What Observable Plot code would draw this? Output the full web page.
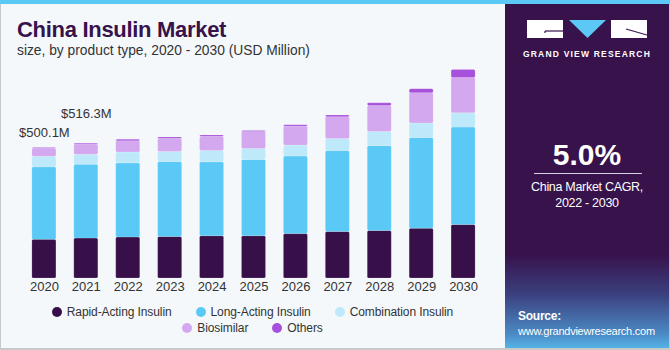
<!DOCTYPE html>
<html>
<head>
<meta charset="utf-8">
<script src="https://cdn.jsdelivr.net/npm/d3@7"></script>
<script src="https://cdn.jsdelivr.net/npm/@observablehq/plot@0.6"></script>
<style>
  html, body { margin: 0; padding: 0; }
  body { width: 670px; height: 350px; overflow: hidden; font-family: "Liberation Sans", Arial, sans-serif; }
  #wrap { position: relative; width: 670px; height: 350px; background: #f4f8fb; box-sizing: border-box; border-left: 1px solid #c8c8c8; border-bottom: 2px solid #c8c8c8; border-right: 1px solid #c8c8c8; }
  #stripe { position: absolute; left: -1px; top: 0; width: 670px; height: 4px; background: #5bc8f5; }
  #title { position: absolute; left: 16px; top: 17px; font-size: 22px; font-weight: 900; color: #37124b; letter-spacing: -0.3px; }
  #subtitle { position: absolute; left: 16px; top: 43px; font-size: 13.8px; color: #333; }
  #chart { position: absolute; left: -1px; top: 60px; }
  .legrow { position: absolute; left: -1px; width: 505px; display: flex; justify-content: center; gap: 24px; font-size: 12px; color: #333; letter-spacing: -0.1px; }
  .item { display: flex; align-items: center; white-space: nowrap; }
  .dot { width: 10px; height: 10px; border-radius: 50%; margin-right: 5px; }
  #panel { position: absolute; left: 504px; top: 4px; width: 164px; height: 344px;
    background: linear-gradient(to bottom, #37124b 0px, #37124b 250px, #3b3f7e 290px, #4b8ac4 330px, #55b3e6 344px); }
  #logo { position: absolute; left: 22px; top: 16px; width: 120px; height: 18px; }
  #brand { position: absolute; left: 0; width: 164px; top: 45px; text-align: center; color: #fff; font-size: 8.5px; font-weight: bold; letter-spacing: 1.2px; }
  #big { position: absolute; left: 0; width: 164px; top: 134px; text-align: center; color: #fff; font-size: 30px; font-weight: bold; }
  #rule { position: absolute; left: 29px; top: 169px; width: 108px; height: 1px; background: #d8d0e0; }
  #cagr { position: absolute; left: 0; width: 164px; top: 175px; text-align: center; color: #fff; font-size: 12.5px; line-height: 16px; letter-spacing: -0.3px; }
  #src { position: absolute; left: 13px; top: 305px; color: #fff; font-size: 11px; line-height: 15px; letter-spacing: -0.25px; }
</style>
</head>
<body>
<div id="wrap">
  <div id="stripe"></div>
  <div id="title">China Insulin Market</div>
  <div id="subtitle">size, by product type, 2020 - 2030 (USD Million)</div>
  <div id="chart"></div>
  <div class="legrow" id="leg1" style="top:305px"></div>
  <div class="legrow" id="leg2" style="top:321px"></div>
  <div id="panel">
    <svg id="logo" viewBox="0 0 120 18">
      <rect x="0" y="0" width="36" height="18" fill="#fff"/>
      <polyline points="18,11 36,11" stroke="#37124b" stroke-width="1.2" fill="none"/>
      <polyline points="18,11 18,13" stroke="#37124b" stroke-width="1.2" fill="none"/>
      <polygon points="42,0 79,0 60.5,18" fill="#5bc8f5"/>
      <rect x="84" y="0" width="36" height="18" fill="#fff"/>
      <polyline points="99,9 120,15" stroke="#37124b" stroke-width="1.2" fill="none"/>
    </svg>
    <div id="brand">GRAND VIEW RESEARCH</div>
    <div id="big">5.0%</div>
    <div id="rule"></div>
    <div id="cagr">China Market CAGR,<br>2022 - 2030</div>
    <div id="src"><b style="font-size:12px">Source:</b><br>www.grandviewresearch.com</div>
  </div>
</div>
<script>
const years = [2020, 2021, 2022, 2023, 2024, 2025, 2026, 2027, 2028, 2029, 2030];
const rapidActing = [148, 153, 157, 159, 162, 162, 170, 178, 182, 191, 205];
const longActing = [278, 283, 284, 287, 283, 292, 297, 310, 325, 347, 373];
const combination = [40, 38, 42, 39, 43, 42, 42, 46, 54, 56, 55];
const biosimilar = [31, 38, 43, 50, 55, 65, 73, 84, 100, 116, 135];
const others = [3.1, 4.3, 5, 5, 5, 4, 5, 6, 10, 15, 31];
const seriesNames = ["Rapid-Acting Insulin", "Long-Acting Insulin", "Combination Insulin", "Biosimilar", "Others"];
const seriesColors = ["#37104a", "#5bc9f6", "#bde9fa", "#d4a8ee", "#a650db"];
const labelYears = [2020, 2021];
const labelTexts = ["$500.1M", "$516.3M"];

const seriesValues = [rapidActing, longActing, combination, biosimilar, others];
const rows = [];
seriesNames.forEach((name, s) => {
  years.forEach((yr, i) => rows.push({ year: String(yr), type: name, value: seriesValues[s][i] }));
});
const totals = years.map((yr, i) => seriesValues.reduce((a, arr) => a + arr[i], 0));
const labels = labelYears.map((yr, k) => ({ year: String(yr), total: totals[years.indexOf(yr)], text: labelTexts[k] }));

const chart = Plot.plot({
  width: 505,
  height: 240,
  marginLeft: 14,
  marginRight: 12,
  marginTop: 0,
  marginBottom: 22,
  style: { background: "transparent", fontFamily: "'Liberation Sans', Arial, sans-serif" },
  x: { type: "band", domain: years.map(String), padding: 0.427, round: false, label: null, tickSize: 0, tickPadding: 3 },
  y: { domain: [0, 835], axis: null },
  color: { domain: seriesNames, range: seriesColors },
  marks: [
    Plot.barY(rows, { x: "year", y: "value", fill: "type", stroke: "#ffffff", strokeOpacity: 0.25, strokeWidth: 0.6, rx: 1.5 }),
    Plot.axisX({ tickSize: 0, tickPadding: 3, fontSize: 13, color: "#333", label: null }),
    Plot.text(labels.slice(0, 1), { x: "year", y: "total", text: "text", dy: -15, fontSize: 13, fill: "#333" }),
    Plot.text(labels.slice(1, 2), { x: "year", y: "total", text: "text", dy: -30, fontSize: 13, fill: "#333" })
  ]
});
chart.querySelectorAll("text").forEach(t => t.setAttribute("fill", "#333"));
document.getElementById("chart").appendChild(chart);

function legendRow(el, idx) {
  idx.forEach(i => {
    const item = document.createElement("div");
    item.className = "item";
    item.innerHTML = `<span class="dot" style="background:${seriesColors[i]}"></span><span>${seriesNames[i]}</span>`;
    el.appendChild(item);
  });
}
legendRow(document.getElementById("leg1"), [0, 1, 2]);
legendRow(document.getElementById("leg2"), [3, 4]);
</script>
</body>
</html>
